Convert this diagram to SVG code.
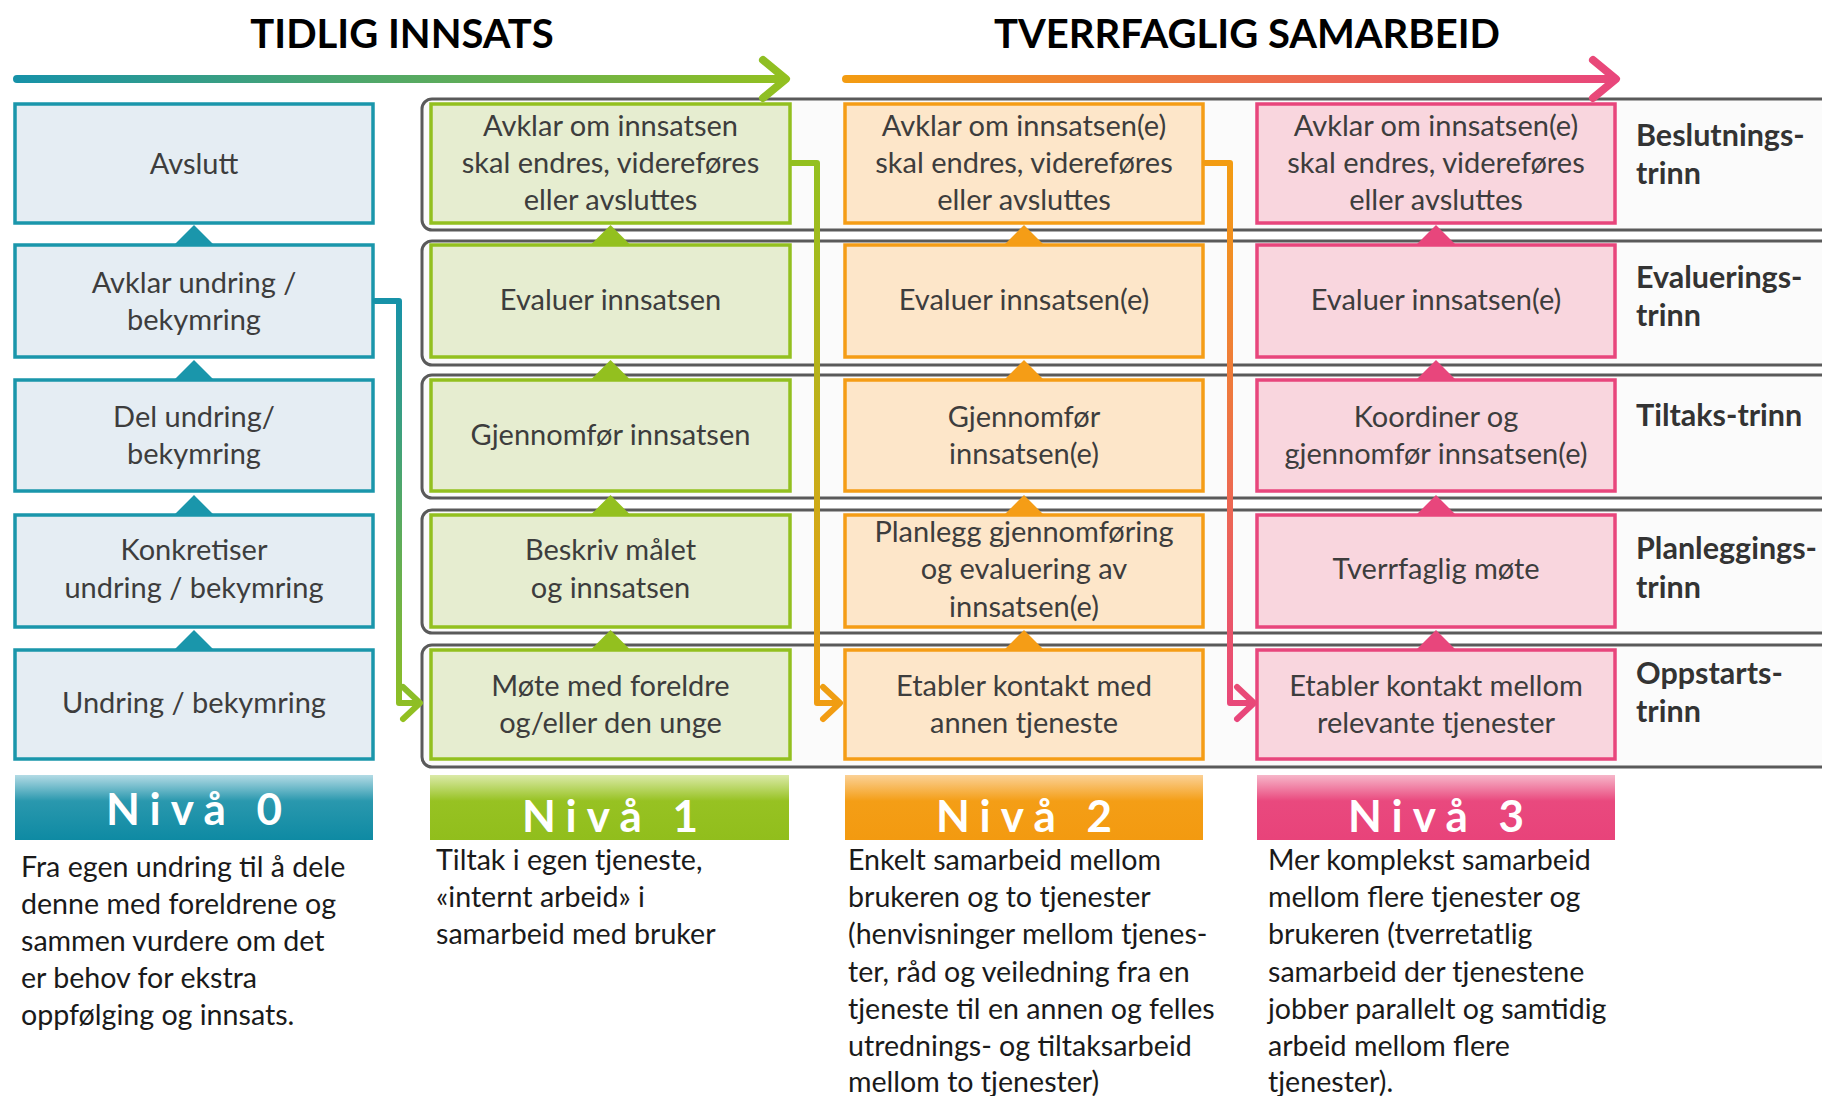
<svg xmlns="http://www.w3.org/2000/svg" width="1822" height="1096" viewBox="0 0 1822 1096">
<defs>
<style>
.bt{font-family:Lato,"Open Sans","Liberation Sans",sans-serif;font-size:29px;fill:#3d3d3d;text-anchor:middle}
.ds{font-family:Lato,"Open Sans","Liberation Sans",sans-serif;font-size:28.6px;fill:#1a1a1a}
.lb{font-family:Lato,"Open Sans","Liberation Sans",sans-serif;font-size:30.5px;font-weight:bold;fill:#333}
.tt{font-family:Lato,"Open Sans","Liberation Sans",sans-serif;font-size:40px;font-weight:bold;fill:#000;text-anchor:middle}
.nv{font-family:Lato,"Open Sans","Liberation Sans",sans-serif;font-size:44px;font-weight:bold;fill:#fff;text-anchor:middle;letter-spacing:10px}
.band{fill:#fbfbfb;stroke:#5a5a5a;stroke-width:3}
.b0{fill:#e5edf3;stroke:#1a96ab;stroke-width:3.5}
.b1{fill:#e6edd0;stroke:#93c01f;stroke-width:3.5}
.b2{fill:#fde6c9;stroke:#f59d16;stroke-width:3.5}
.b3{fill:#f9d6de;stroke:#e8467c;stroke-width:3.5}
.t0{fill:#1a96ab}.t1{fill:#93c01f}.t2{fill:#f59d16}.t3{fill:#e8467c}
.cn{fill:none;stroke-width:6;stroke-linejoin:round;stroke-linecap:round}
.ar{fill:none;stroke-width:8;stroke-linejoin:round;stroke-linecap:round}
</style>
<linearGradient id="gA1" gradientUnits="userSpaceOnUse" x1="17" y1="0" x2="790" y2="0"><stop offset="0" stop-color="#1792a8"/><stop offset="1" stop-color="#93c01f"/></linearGradient>
<linearGradient id="gA2" gradientUnits="userSpaceOnUse" x1="846" y1="0" x2="1618" y2="0"><stop offset="0" stop-color="#f39c12"/><stop offset="1" stop-color="#e8467c"/></linearGradient>
<linearGradient id="gC0" gradientUnits="userSpaceOnUse" x1="0" y1="301" x2="0" y2="720"><stop offset="0" stop-color="#1792a8"/><stop offset="1" stop-color="#93c01f"/></linearGradient>
<linearGradient id="gC1" gradientUnits="userSpaceOnUse" x1="0" y1="163" x2="0" y2="720"><stop offset="0" stop-color="#93c01f"/><stop offset="1" stop-color="#f39c12"/></linearGradient>
<linearGradient id="gC2" gradientUnits="userSpaceOnUse" x1="0" y1="163" x2="0" y2="720"><stop offset="0" stop-color="#f39c12"/><stop offset="1" stop-color="#e8467c"/></linearGradient>
<linearGradient id="n0" x1="0" y1="0" x2="0" y2="1"><stop offset="0" stop-color="#b3dbe5"/><stop offset="0.4" stop-color="#2a98ae"/><stop offset="1" stop-color="#0e8aa3"/></linearGradient>
<linearGradient id="n1" x1="0" y1="0" x2="0" y2="1"><stop offset="0" stop-color="#dbeaa8"/><stop offset="0.4" stop-color="#97c222"/><stop offset="1" stop-color="#91be1c"/></linearGradient>
<linearGradient id="n2" x1="0" y1="0" x2="0" y2="1"><stop offset="0" stop-color="#fbd196"/><stop offset="0.4" stop-color="#f49e16"/><stop offset="1" stop-color="#f39a10"/></linearGradient>
<linearGradient id="n3" x1="0" y1="0" x2="0" y2="1"><stop offset="0" stop-color="#f6b6c9"/><stop offset="0.4" stop-color="#e9497e"/><stop offset="1" stop-color="#e8437a"/></linearGradient>
</defs>
<rect width="1822" height="1096" fill="#fff"/>

<g id="titles">
<text class="tt" x="402" y="48">TIDLIG INNSATS</text>
<text class="tt" x="1247" y="48">TVERRFAGLIG SAMARBEID</text>
</g>

<g id="bands">
<rect class="band" x="422" y="99" width="1450" height="131" rx="10"/>
<rect class="band" x="422" y="241" width="1450" height="124" rx="10"/>
<rect class="band" x="422" y="375" width="1450" height="123" rx="10"/>
<rect class="band" x="422" y="510" width="1450" height="123" rx="10"/>
<rect class="band" x="422" y="645" width="1450" height="122" rx="10"/>
</g>

<g id="col0">
<g id="n0-avslutt"><rect class="b0" x="15" y="104" width="358" height="119"/><text class="bt" x="194" y="174">Avslutt</text></g>
<g id="n0-avklar"><rect class="b0" x="15" y="245" width="358" height="112"/><text class="bt" x="194" y="293">Avklar undring /</text><text class="bt" x="194" y="330">bekymring</text></g>
<g id="n0-del"><rect class="b0" x="15" y="380" width="358" height="111"/><text class="bt" x="194" y="427">Del undring/</text><text class="bt" x="194" y="464">bekymring</text></g>
<g id="n0-konkretiser"><rect class="b0" x="15" y="515" width="358" height="112"/><text class="bt" x="194" y="560">Konkretiser</text><text class="bt" x="194" y="598">undring / bekymring</text></g>
<g id="n0-undring"><rect class="b0" x="15" y="650" width="358" height="109"/><text class="bt" x="194" y="713">Undring / bekymring</text></g>
<path class="t0" d="M174 245 L194 225 L214 245Z M174 380 L194 360 L214 380Z M174 515 L194 495 L214 515Z M174 650 L194 630 L214 650Z"/>
</g>

<g id="col1">
<g id="n1-avklar"><rect class="b1" x="431" y="104" width="359" height="119"/><text class="bt" x="610.5" y="136">Avklar om innsatsen</text><text class="bt" x="610.5" y="173">skal endres, videreføres</text><text class="bt" x="610.5" y="210">eller avsluttes</text></g>
<g id="n1-evaluer"><rect class="b1" x="431" y="245" width="359" height="112"/><text class="bt" x="610.5" y="310">Evaluer innsatsen</text></g>
<g id="n1-gjennomfor"><rect class="b1" x="431" y="380" width="359" height="111"/><text class="bt" x="610.5" y="445">Gjennomfør innsatsen</text></g>
<g id="n1-beskriv"><rect class="b1" x="431" y="515" width="359" height="112"/><text class="bt" x="610.5" y="560">Beskriv målet</text><text class="bt" x="610.5" y="598">og innsatsen</text></g>
<g id="n1-mote"><rect class="b1" x="431" y="650" width="359" height="109"/><text class="bt" x="610.5" y="696">Møte med foreldre</text><text class="bt" x="610.5" y="733">og/eller den unge</text></g>
<path class="t1" d="M590.5 245 L610.5 225 L630.5 245Z M590.5 380 L610.5 360 L630.5 380Z M590.5 515 L610.5 495 L630.5 515Z M590.5 650 L610.5 630 L630.5 650Z"/>
</g>

<g id="col2">
<g id="n2-avklar"><rect class="b2" x="845" y="104" width="358" height="119"/><text class="bt" x="1024" y="136">Avklar om innsatsen(e)</text><text class="bt" x="1024" y="173">skal endres, videreføres</text><text class="bt" x="1024" y="210">eller avsluttes</text></g>
<g id="n2-evaluer"><rect class="b2" x="845" y="245" width="358" height="112"/><text class="bt" x="1024" y="310">Evaluer innsatsen(e)</text></g>
<g id="n2-gjennomfor"><rect class="b2" x="845" y="380" width="358" height="111"/><text class="bt" x="1024" y="427">Gjennomfør</text><text class="bt" x="1024" y="464">innsatsen(e)</text></g>
<g id="n2-planlegg"><rect class="b2" x="845" y="515" width="358" height="112"/><text class="bt" x="1024" y="542">Planlegg gjennomføring</text><text class="bt" x="1024" y="579">og evaluering av</text><text class="bt" x="1024" y="617">innsatsen(e)</text></g>
<g id="n2-etabler"><rect class="b2" x="845" y="650" width="358" height="109"/><text class="bt" x="1024" y="696">Etabler kontakt med</text><text class="bt" x="1024" y="733">annen tjeneste</text></g>
<path class="t2" d="M1004 245 L1024 225 L1044 245Z M1004 380 L1024 360 L1044 380Z M1004 515 L1024 495 L1044 515Z M1004 650 L1024 630 L1044 650Z"/>
</g>

<g id="col3">
<g id="n3-avklar"><rect class="b3" x="1257" y="104" width="358" height="119"/><text class="bt" x="1436" y="136">Avklar om innsatsen(e)</text><text class="bt" x="1436" y="173">skal endres, videreføres</text><text class="bt" x="1436" y="210">eller avsluttes</text></g>
<g id="n3-evaluer"><rect class="b3" x="1257" y="245" width="358" height="112"/><text class="bt" x="1436" y="310">Evaluer innsatsen(e)</text></g>
<g id="n3-koordiner"><rect class="b3" x="1257" y="380" width="358" height="111"/><text class="bt" x="1436" y="427">Koordiner og</text><text class="bt" x="1436" y="464">gjennomfør innsatsen(e)</text></g>
<g id="n3-tverrfaglig"><rect class="b3" x="1257" y="515" width="358" height="112"/><text class="bt" x="1436" y="579">Tverrfaglig møte</text></g>
<g id="n3-etabler"><rect class="b3" x="1257" y="650" width="358" height="109"/><text class="bt" x="1436" y="696">Etabler kontakt mellom</text><text class="bt" x="1436" y="733">relevante tjenester</text></g>
<path class="t3" d="M1416 245 L1436 225 L1456 245Z M1416 380 L1436 360 L1456 380Z M1416 515 L1436 495 L1456 515Z M1416 650 L1436 630 L1456 650Z"/>
</g>

<g id="connectors">
<path class="ar" stroke="url(#gA1)" d="M17 79 H784 M763 60 L786 79 L763 98"/>
<path class="ar" stroke="url(#gA2)" d="M846 79 H1613 M1593 60 L1616 79 L1593 98"/>
<path class="cn" stroke="url(#gC0)" d="M375 301 H399 V703 H418 M403 687 L420 703 L403 719"/>
<path class="cn" stroke="url(#gC1)" d="M792 163 H817 V703 H838 M823 687 L840 703 L823 719"/>
<path class="cn" stroke="url(#gC2)" d="M1205 163 H1230 V703 H1252 M1237 687 L1254 703 L1237 719"/>
</g>

<g id="stage-labels">
<text class="lb" x="1636" y="146">Beslutnings-</text><text class="lb" x="1636" y="184">trinn</text>
<text class="lb" x="1636" y="288">Evaluerings-</text><text class="lb" x="1636" y="326">trinn</text>
<text class="lb" x="1636" y="426">Tiltaks-trinn</text>
<text class="lb" x="1636" y="559">Planleggings-</text><text class="lb" x="1636" y="598">trinn</text>
<text class="lb" x="1636" y="684">Oppstarts-</text><text class="lb" x="1636" y="722">trinn</text>
</g>

<g id="levels">
<g id="niva0"><rect x="15" y="775" width="358" height="65" fill="url(#n0)"/><text class="nv" x="199" y="825">Nivå 0</text></g>
<g id="niva1"><rect x="430" y="775" width="359" height="65" fill="url(#n1)"/><text class="nv" x="615" y="832">Nivå 1</text></g>
<g id="niva2"><rect x="845" y="775" width="358" height="65" fill="url(#n2)"/><text class="nv" x="1029" y="832">Nivå 2</text></g>
<g id="niva3"><rect x="1257" y="775" width="358" height="65" fill="url(#n3)"/><text class="nv" x="1441" y="832">Nivå 3</text></g>
</g>

<g id="descriptions">
<text class="ds" x="21" y="877">Fra egen undring til å dele</text>
<text class="ds" x="21" y="914">denne med foreldrene og</text>
<text class="ds" x="21" y="951">sammen vurdere om det</text>
<text class="ds" x="21" y="988">er behov for ekstra</text>
<text class="ds" x="21" y="1025">oppfølging og innsats.</text>
<text class="ds" x="436" y="870">Tiltak i egen tjeneste,</text>
<text class="ds" x="436" y="907">«internt arbeid» i</text>
<text class="ds" x="436" y="944">samarbeid med bruker</text>
<text class="ds" x="848" y="870">Enkelt samarbeid mellom</text>
<text class="ds" x="848" y="907">brukeren og to tjenester</text>
<text class="ds" x="848" y="944">(henvisninger mellom tjenes-</text>
<text class="ds" x="848" y="982">ter, råd og veiledning fra en</text>
<text class="ds" x="848" y="1019">tjeneste til en annen og felles</text>
<text class="ds" x="848" y="1056">utrednings- og tiltaksarbeid</text>
<text class="ds" x="848" y="1092">mellom to tjenester)</text>
<text class="ds" x="1268" y="870">Mer komplekst samarbeid</text>
<text class="ds" x="1268" y="907">mellom flere tjenester og</text>
<text class="ds" x="1268" y="944">brukeren (tverretatlig</text>
<text class="ds" x="1268" y="982">samarbeid der tjenestene</text>
<text class="ds" x="1268" y="1019">jobber parallelt og samtidig</text>
<text class="ds" x="1268" y="1056">arbeid mellom flere</text>
<text class="ds" x="1268" y="1092">tjenester).</text>
</g>
</svg>
